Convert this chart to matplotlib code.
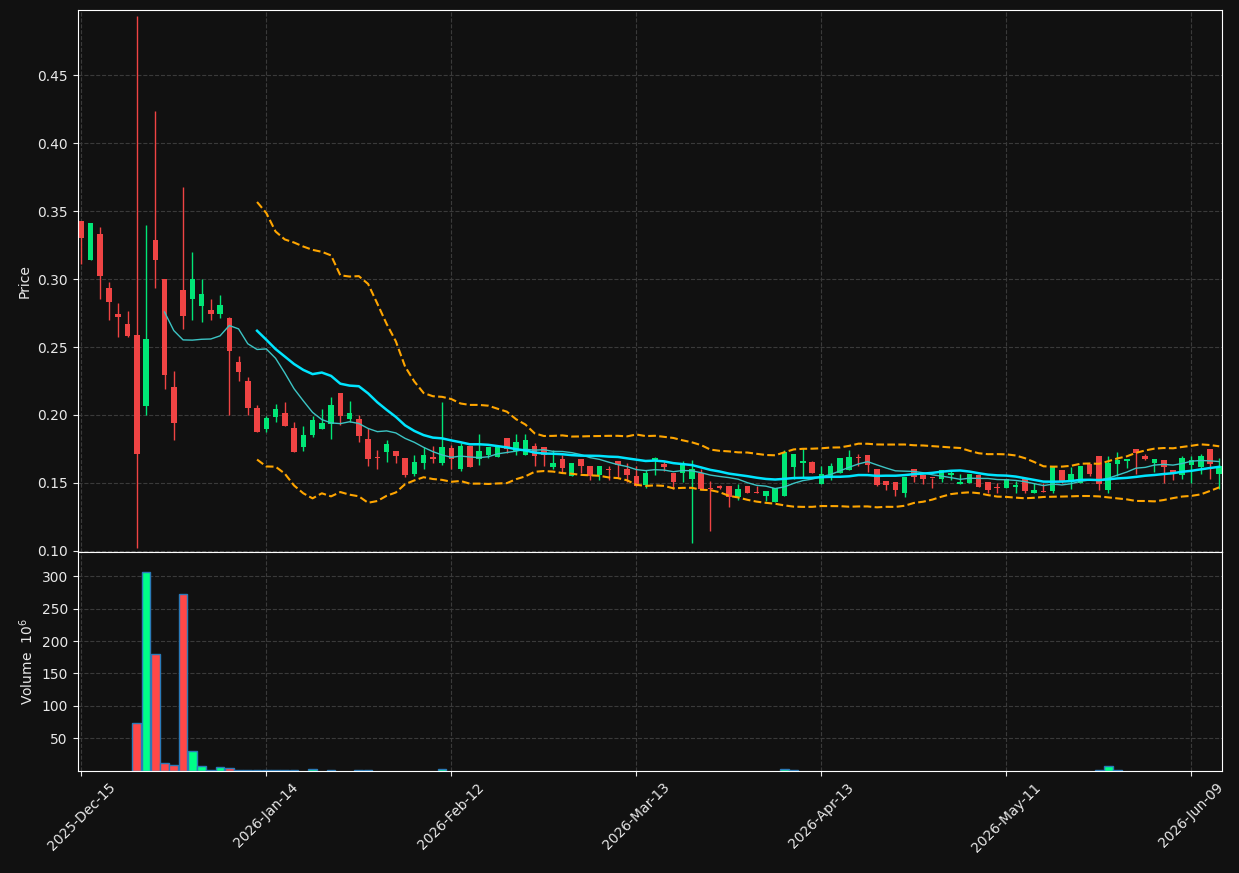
import numpy as np
import pandas as pd
import matplotlib
matplotlib.use("Agg")
import matplotlib.pyplot as plt

# ==========================================================
# DATA  (daily OHLC, volume in millions)
# ==========================================================

HOLIDAYS = ["2025-12-25", "2026-01-01", "2026-01-19", "2026-02-16",
            "2026-04-03", "2026-05-25"]

opens = [
    0.3428, 0.3144, 0.3332, 0.2936, 0.2745, 0.2673, 0.2585, 0.2064, 0.3289, 0.3003,
    0.2209, 0.2923, 0.2851, 0.2799, 0.2776, 0.2740, 0.2716, 0.2392, 0.2253, 0.2054,
    0.1894, 0.1985, 0.2015, 0.1904, 0.1767, 0.1853, 0.1900, 0.1936, 0.2162, 0.1968,
    0.1971, 0.1824, 0.1694, 0.1730, 0.1735, 0.1684, 0.1569, 0.1647, 0.1694, 0.1650,
    0.1757, 0.1600, 0.1772, 0.1674, 0.1708, 0.1689, 0.1833, 0.1733, 0.1708, 0.1775,
    0.1765, 0.1620, 0.1676, 0.1549, 0.1679, 0.1627, 0.1561, 0.1605, 0.1664, 0.1605,
    0.1554, 0.1488, 0.1667, 0.1637, 0.1576, 0.1571, 0.1532, 0.1576, 0.1466, 0.1480,
    0.1480, 0.1395, 0.1480, 0.1436, 0.1407, 0.1363, 0.1402, 0.1615, 0.1647, 0.1657,
    0.1490, 0.1534, 0.1571, 0.1598, 0.1691, 0.1708, 0.1605, 0.1517, 0.1510, 0.1429,
    0.1605, 0.1556, 0.1537, 0.1532, 0.1556, 0.1495, 0.1500, 0.1561, 0.1507, 0.1471,
    0.1466, 0.1473, 0.1532, 0.1429, 0.1436, 0.1439, 0.1596, 0.1520, 0.1502, 0.1637,
    0.1699, 0.1449, 0.1642, 0.1662, 0.1748, 0.1699, 0.1650, 0.1667, 0.1593, 0.1561,
    0.1635, 0.1618, 0.1750, 0.1569,
]
highs = [
    0.3428, 0.3415, 0.3381, 0.2979, 0.2825, 0.2765, 0.4933, 0.3397, 0.4235, 0.3003,
    0.2325, 0.3675, 0.3201, 0.3003, 0.2853, 0.2884, 0.2724, 0.2436, 0.2281, 0.2075,
    0.1990, 0.2080, 0.2093, 0.1951, 0.1922, 0.1995, 0.2042, 0.2130, 0.2162, 0.2100,
    0.1998, 0.1902, 0.1743, 0.1814, 0.1735, 0.1684, 0.1702, 0.1767, 0.1772, 0.2093,
    0.1782, 0.1792, 0.1772, 0.1860, 0.1767, 0.1775, 0.1833, 0.1860, 0.1860, 0.1794,
    0.1765, 0.1740, 0.1708, 0.1650, 0.1679, 0.1627, 0.1627, 0.1627, 0.1664, 0.1647,
    0.1627, 0.1598, 0.1689, 0.1664, 0.1576, 0.1664, 0.1672, 0.1605, 0.1515, 0.1488,
    0.1480, 0.1493, 0.1480, 0.1480, 0.1444, 0.1461, 0.1740, 0.1716, 0.1757, 0.1664,
    0.1627, 0.1647, 0.1686, 0.1745, 0.1716, 0.1708, 0.1605, 0.1517, 0.1510, 0.1547,
    0.1605, 0.1556, 0.1537, 0.1596, 0.1596, 0.1564, 0.1569, 0.1561, 0.1507, 0.1500,
    0.1529, 0.1512, 0.1532, 0.1500, 0.1500, 0.1620, 0.1596, 0.1615, 0.1625, 0.1637,
    0.1699, 0.1699, 0.1730, 0.1676, 0.1748, 0.1716, 0.1676, 0.1667, 0.1593, 0.1696,
    0.1701, 0.1711, 0.1750, 0.1681,
]
lows = [
    0.3111, 0.3144, 0.2853, 0.2698, 0.2575, 0.2575, 0.1023, 0.2003, 0.2936, 0.2193,
    0.1817, 0.2634, 0.2698, 0.2686, 0.2696, 0.2711, 0.2003, 0.2250, 0.2003, 0.1874,
    0.1874, 0.1951, 0.1922, 0.1730, 0.1735, 0.1841, 0.1900, 0.1821, 0.1924, 0.1949,
    0.1801, 0.1625, 0.1600, 0.1657, 0.1650, 0.1547, 0.1551, 0.1600, 0.1650, 0.1630,
    0.1600, 0.1591, 0.1615, 0.1635, 0.1681, 0.1689, 0.1721, 0.1708, 0.1708, 0.1623,
    0.1625, 0.1605, 0.1578, 0.1549, 0.1574, 0.1520, 0.1520, 0.1520, 0.1544, 0.1505,
    0.1480, 0.1463, 0.1561, 0.1591, 0.1456, 0.1505, 0.1059, 0.1456, 0.1145, 0.1456,
    0.1321, 0.1375, 0.1426, 0.1424, 0.1370, 0.1363, 0.1402, 0.1529, 0.1544, 0.1571,
    0.1490, 0.1520, 0.1571, 0.1593, 0.1627, 0.1581, 0.1476, 0.1451, 0.1402, 0.1395,
    0.1507, 0.1495, 0.1466, 0.1510, 0.1520, 0.1495, 0.1500, 0.1473, 0.1426, 0.1429,
    0.1466, 0.1429, 0.1429, 0.1429, 0.1431, 0.1429, 0.1500, 0.1453, 0.1502, 0.1551,
    0.1449, 0.1429, 0.1551, 0.1608, 0.1564, 0.1667, 0.1583, 0.1502, 0.1525, 0.1529,
    0.1498, 0.1564, 0.1527, 0.1453,
]
closes = [
    0.3299, 0.3415, 0.3021, 0.2830, 0.2719, 0.2580, 0.1711, 0.2562, 0.3144, 0.2294,
    0.1938, 0.2727, 0.3003, 0.2892, 0.2740, 0.2812, 0.2472, 0.2314, 0.2049, 0.1874,
    0.1977, 0.2041, 0.1922, 0.1730, 0.1850, 0.1963, 0.1941, 0.2071, 0.1995, 0.2012,
    0.1848, 0.1679, 0.1686, 0.1784, 0.1701, 0.1561, 0.1652, 0.1703, 0.1679, 0.1765,
    0.1674, 0.1772, 0.1620, 0.1735, 0.1767, 0.1775, 0.1750, 0.1804, 0.1816, 0.1701,
    0.1703, 0.1650, 0.1613, 0.1650, 0.1623, 0.1549, 0.1627, 0.1598, 0.1630, 0.1561,
    0.1480, 0.1576, 0.1681, 0.1620, 0.1505, 0.1637, 0.1605, 0.1456, 0.1456, 0.1461,
    0.1395, 0.1458, 0.1426, 0.1424, 0.1444, 0.1461, 0.1728, 0.1716, 0.1659, 0.1571,
    0.1569, 0.1627, 0.1686, 0.1694, 0.1686, 0.1630, 0.1488, 0.1488, 0.1451, 0.1547,
    0.1547, 0.1532, 0.1534, 0.1596, 0.1576, 0.1507, 0.1569, 0.1473, 0.1449, 0.1466,
    0.1529, 0.1488, 0.1441, 0.1449, 0.1431, 0.1620, 0.1505, 0.1566, 0.1625, 0.1564,
    0.1495, 0.1650, 0.1667, 0.1676, 0.1718, 0.1679, 0.1676, 0.1618, 0.1569, 0.1681,
    0.1667, 0.1699, 0.1642, 0.1623,
]
volumes = [
    0.0, 0.0, 0.0, 0.0, 0.0, 0.0, 74.0, 307.0, 180.6, 12.0,
    9.0, 272.7, 30.5, 7.0, 0.8, 5.7, 4.0, 1.2, 1.0, 0.9,
    0.8, 0.7, 0.6, 1.0, 0.0, 2.6, 0.0, 1.0, 0.0, 0.0,
    0.8, 0.8, 0.0, 0.0, 0.0, 0.0, 0.0, 0.0, 0.0, 3.0,
    0.0, 0.0, 0.0, 0.0, 0.0, 0.0, 0.0, 0.0, 0.0, 0.0,
    0.0, 0.0, 0.0, 0.0, 0.0, 0.0, 0.0, 0.0, 0.0, 0.0,
    0.0, 0.0, 0.0, 0.0, 0.0, 0.0, 0.0, 0.0, 0.0, 0.0,
    0.0, 0.0, 0.0, 0.0, 0.0, 0.0, 2.5, 0.8, 0.0, 0.0,
    0.0, 0.0, 0.0, 0.0, 0.0, 0.0, 0.0, 0.0, 0.0, 0.0,
    0.0, 0.0, 0.0, 0.0, 0.0, 0.0, 0.0, 0.0, 0.0, 0.0,
    0.0, 0.0, 0.0, 0.0, 0.0, 0.0, 0.0, 0.0, 0.0, 0.0,
    0.8, 7.0, 1.0, 0.0, 0.0, 0.0, 0.0, 0.0, 0.0, 0.0,
    0.0, 0.0, 0.0, 0.0,
]

MA_FAST = 10
MA_SLOW = 20
BB_STD = 2.0
TICK_EVERY = 20

# ==========================================================
# STYLE
# ==========================================================

BG = "#111111"
GRID = "#3a3a3a"
UP = "#00e676"
DOWN = "#ef4444"
VOL_UP = "#00ff88"
VOL_DOWN = "#ff4848"
VOL_EDGE = "#2a7ab8"
TXT = "#e8e8e8"

df = pd.DataFrame({"Open": opens, "High": highs, "Low": lows,
                   "Close": closes, "Volume": volumes})
df.index = pd.bdate_range("2025-12-15", periods=len(df), freq="C", holidays=HOLIDAYS)

x = np.arange(len(df))
up = df["Close"] >= df["Open"]

ma_fast = df["Close"].rolling(MA_FAST).mean()
ma_slow = df["Close"].rolling(MA_SLOW).mean()
sd = df["Close"].rolling(MA_SLOW).std()
bb_up = ma_slow + BB_STD * sd
bb_lo = ma_slow - BB_STD * sd

# ==========================================================
# FIGURE
# ==========================================================

fig = plt.figure(figsize=(12.39, 8.73), dpi=100, facecolor=BG)
ax = fig.add_axes([0.0626, 0.3677, 0.9237, 0.6208])
axv = fig.add_axes([0.0626, 0.1174, 0.9237, 0.2503], sharex=ax)

for a in (ax, axv):
    a.set_facecolor(BG)
    for s in a.spines.values():
        s.set_color("white")
        s.set_zorder(5)
    a.tick_params(colors=TXT, labelsize=10)
    a.grid(True, color=GRID, linestyle="--", linewidth=0.8)
    a.set_axisbelow(True)

# --- velas ---
col = np.where(up, UP, DOWN)
ax.vlines(x, df["Low"], df["High"], colors=col, linewidth=1.0, zorder=2)
body_lo = np.minimum(df["Open"], df["Close"])
body_h = np.maximum((df["Close"] - df["Open"]).abs(), 0.0006)
ax.bar(x, body_h, bottom=body_lo, width=0.6, color=col, linewidth=0, zorder=3)

# --- medias / bollinger ---
ax.plot(x, ma_fast, color="#3cc4c4", linewidth=1.0, zorder=4)
ax.plot(x, ma_slow, color="#00e5ff", linewidth=1.8, zorder=4)
ax.plot(x, bb_up, color="#ffa500", linestyle="--", linewidth=1.5, zorder=4)
ax.plot(x, bb_lo, color="#ffa500", linestyle="--", linewidth=1.5, zorder=4)

rng = df["High"].max() - df["Low"].min()
ax.set_ylim(df["Low"].min() - 0.008 * rng, df["High"].max() + 0.012 * rng)
ax.set_yticks(np.arange(0.10, 0.451, 0.05))
ax.yaxis.set_major_formatter(plt.FormatStrFormatter("%.2f"))
ax.set_ylabel("Price", color=TXT, fontsize=10)
ax.tick_params(axis="x", labelbottom=False)

# --- volumen ---
vmask = df["Volume"] > 0
vcol = np.where(up, VOL_UP, VOL_DOWN)
axv.bar(x[vmask], df["Volume"][vmask], width=0.95, color=vcol[vmask],
        edgecolor=VOL_EDGE, linewidth=1.0, zorder=2)
axv.set_ylim(0, 1.1 * df["Volume"].max())
axv.set_yticks(np.arange(50, 301, 50))
axv.set_ylabel("Volume  $10^{6}$", color=TXT, fontsize=10)

ticks = x[::TICK_EVERY]
axv.set_xticks(ticks)
axv.set_xticklabels([d.strftime("%Y-%b-%d") for d in df.index[::TICK_EVERY]],
                    rotation=45, ha="center")
axv.set_xlim(-0.4, len(df) - 0.7)

fig.savefig("out.png", dpi=100, facecolor=BG)
